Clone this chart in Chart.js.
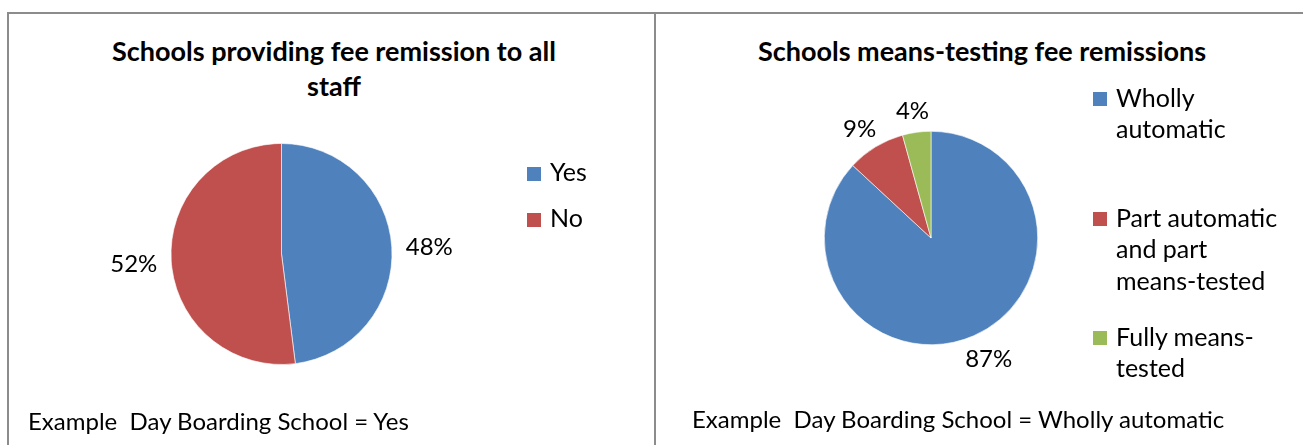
<!DOCTYPE html>
<html>
<head>
<meta charset="utf-8">
<script src="https://cdn.jsdelivr.net/npm/chart.js@4.4.1/dist/chart.umd.min.js"></script>
<style>
  body { margin: 0; background: #fff; width: 1303px; height: 445px; overflow: hidden; position: relative;
         font-family: Lato, "Open Sans", sans-serif; color: #000; }
  .rule { position: absolute; background: #8c8c8c; }
  canvas { position: absolute; }
  .title { position: absolute; font-weight: bold; font-size: 27px; line-height: 35px; text-align: center; white-space: nowrap; }
  .note { position: absolute; font-size: 24px; line-height: 32px; white-space: nowrap; }
  .leg { position: absolute; font-size: 25px; line-height: 31.5px; white-space: nowrap; }
  .leg i { position: absolute; left: 0; top: 10.5px; width: 14px; height: 14px; }
  .leg span { position: absolute; left: 23px; top: 0; }
</style>
</head>
<body>
<div class="rule" style="left:7px;top:12px;width:1296px;height:2px"></div>
<div class="rule" style="left:7px;top:12px;width:2px;height:433px"></div>
<div class="rule" style="left:654px;top:12px;width:2px;height:433px"></div>

<div class="title" style="left:84px;top:33px;width:500px">Schools providing fee remission to all<br>staff</div>
<div class="title" style="left:700px;top:33px;width:564px">Schools means-testing fee remissions</div>

<canvas id="staffChart" width="645" height="431" style="left:9px;top:14px"></canvas>
<canvas id="meansChart" width="646" height="431" style="left:657px;top:14px"></canvas>

<div id="staffLegend"></div>
<div id="meansLegend"></div>

<div class="note" style="left:28px;top:405px">Example&nbsp; Day Boarding School = Yes</div>
<div class="note" style="left:692px;top:403px">Example&nbsp; Day Boarding School = Wholly automatic</div>

<script>
// data
const staffLabels = [["Yes"], ["No"]];
const staffValues = [48, 52];
const staffColors = ["#4F81BD", "#C0504D"];

const meansLabels = [["Wholly", "automatic"], ["Part automatic", "and part", "means-tested"], ["Fully means-", "tested"]];
const meansValues = [86.9, 8.8, 4.3];
const meansColors = ["#4F81BD", "#C0504D", "#9BBB59"];

// percent labels just outside each slice, box pushed away from the centre
const outsideLabels = {
  id: "outsideLabels",
  afterDatasetsDraw(chart, args, opts) {
    const ctx = chart.ctx;
    const values = chart.data.datasets[0].data;
    const total = values.reduce((a, b) => a + b, 0);
    ctx.save();
    ctx.font = "24px Lato";
    ctx.fillStyle = "#000";
    ctx.textAlign = "center";
    ctx.textBaseline = "middle";
    chart.getDatasetMeta(0).data.forEach((arc, i) => {
      const p = arc.getProps(["x", "y", "startAngle", "endAngle", "outerRadius"], true);
      const mid = (p.startAngle + p.endAngle) / 2;
      const txt = Math.round((values[i] / total) * 100) + "%";
      const w = ctx.measureText(txt).width;
      const r = p.outerRadius + opts.gap;
      const x = p.x + Math.cos(mid) * (r + w / 2);
      const y = p.y + Math.sin(mid) * (r + 9) + 2;
      ctx.fillText(txt, x, y);
    });
    ctx.restore();
  },
};

function makePie(id, labels, values, colors, radius, padding) {
  return new Chart(document.getElementById(id), {
    type: "pie",
    data: {
      labels: labels.map((l) => l.join(" ")),
      datasets: [{ data: values, backgroundColor: colors, borderColor: "#ffffff", borderWidth: 0.6 }],
    },
    options: {
      responsive: false,
      animation: false,
      radius: radius,
      layout: { padding: padding },
      plugins: {
        legend: { display: false },
        tooltip: { enabled: false },
        outsideLabels: { gap: 14 },
      },
    },
    plugins: [outsideLabels],
  });
}

function makeLegend(id, labels, colors, left, tops) {
  const box = document.getElementById(id);
  box.innerHTML = labels
    .map(
      (l, i) => `
      <div class="leg" style="left:${left}px;top:${tops[i]}px">
        <i style="background:${colors[i]}"></i>
        <span>${l.join("<br>")}</span>
      </div>`
    )
    .join("");
}

makePie("staffChart", staffLabels, staffValues, staffColors, 110.5,
  { left: 147.5, right: 247.5, top: 115, bottom: 66 });
makePie("meansChart", meansLabels, meansValues, meansColors, 106.7,
  { left: 149, right: 247, top: 99, bottom: 82 });

makeLegend("staffLegend", staffLabels, staffColors, 527, [156, 202]);
makeLegend("meansLegend", meansLabels, meansColors, 1093, [81.5, 201.5, 320.5]);
</script>
</body>
</html>
